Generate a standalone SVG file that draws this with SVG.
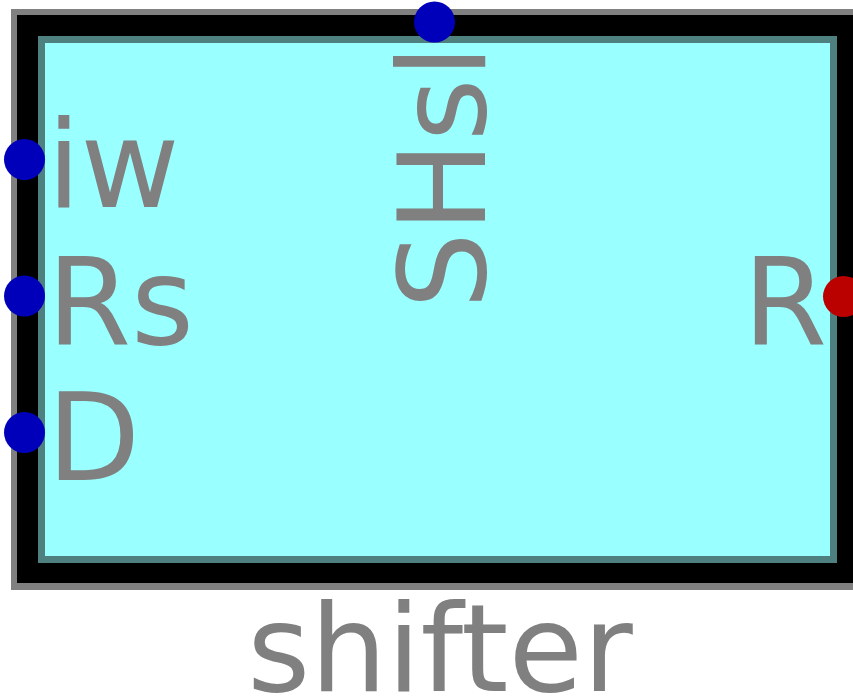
<svg xmlns="http://www.w3.org/2000/svg" width="853" height="698" viewBox="0 0 853 698">
<style>
.lbl{font-family:"DejaVu Sans",sans-serif;font-size:121px;fill:#808080}
.in{fill:#0000bb}
.out{fill:#bb0000}
</style>
<rect x="0" y="0" width="853" height="698" fill="#ffffff"/>
<g id="connectors"></g>
<g id="shifter">
<rect x="11" y="9" width="860" height="581" fill="#808080"/>
<rect x="17" y="15" width="841" height="568" fill="#000000"/>
<rect x="38" y="36" width="799" height="527" fill="#4f8080"/>
<rect x="45" y="43" width="785" height="513" fill="#99ffff"/>
<text class="lbl" x="47" y="207">iw</text>
<text class="lbl" x="47" y="344">Rs</text>
<text class="lbl" x="47" y="480">D</text>
<text class="lbl" x="827" y="344" text-anchor="end">R</text>
<text class="lbl" transform="translate(485,309) rotate(-90)">SHsl</text>
<text class="lbl" x="440" y="691" text-anchor="middle" font-size="123">shifter</text>
</g>
<g id="port-iw"><circle class="in" cx="24.5" cy="159.5" r="20.5"/></g>
<g id="port-Rs"><circle class="in" cx="24.5" cy="296" r="20.5"/></g>
<g id="port-D"><circle class="in" cx="24.5" cy="432.5" r="20.5"/></g>
<g id="port-SHsl"><circle class="in" cx="434.5" cy="22" r="20.5"/></g>
<g id="port-R"><circle class="out" cx="843.5" cy="296.5" r="20.5"/></g>
</svg>
